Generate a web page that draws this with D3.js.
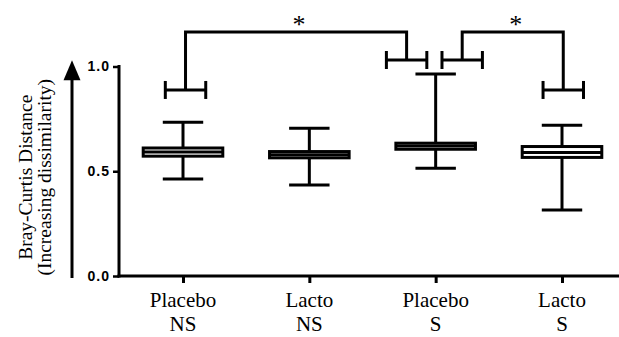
<!DOCTYPE html>
<html>
<head>
<meta charset="utf-8">
<script src="https://cdn.jsdelivr.net/npm/d3@7"></script>
<style>
  body { margin: 0; background: #fff; }
  svg { display: block; }
</style>
</head>
<body>
<svg id="chart"></svg>
<script>
// ------ data
var groups = ['Placebo NS', 'Lacto NS', 'Placebo S', 'Lacto S']
var groupLine1 = ['Placebo', 'Lacto', 'Placebo', 'Lacto']
var groupLine2 = ['NS', 'NS', 'S', 'S']
var whiskerLow = [0.463, 0.434, 0.514, 0.315]
var boxLow = [0.572, 0.564, 0.605, 0.566]
var medians = [0.592, 0.579, 0.620, 0.590]
var boxHigh = [0.611, 0.594, 0.634, 0.618]
var whiskerHigh = [0.734, 0.705, 0.964, 0.719]
var yTicks = [0, 0.5, 1]

// significance brackets: groups compared, cap levels, offsets (in steps), bar level
var bracketFrom = ['Placebo NS', 'Placebo S']
var bracketTo = ['Placebo S', 'Lacto S']
var bracketFromLevel = [0.888, 1.031]
var bracketToLevel = [1.031, 0.888]
var bracketFromShift = [0.02, 0.21]
var bracketToShift = [-0.23, 0.01]
var bracketTop = [1.165, 1.165]
var bracketLabel = ['*', '*']

var width = 619
var height = 337
var margin = { top: 0, right: 0, bottom: 61, left: 119 }

var svg = d3.select('#chart').attr('width', width).attr('height', height)

var x = d3
  .scalePoint()
  .domain(groups)
  .range([183, 562])

var step = x.step()

var y = d3
  .scaleLinear()
  .domain([0, 1])
  .range([276, 66.5])

var boxes = groups.map((g, i) => ({
  group: g,
  lo: whiskerLow[i],
  q1: boxLow[i],
  med: medians[i],
  q3: boxHigh[i],
  hi: whiskerHigh[i]
}))

var stroke = 3

// y axis
var yAxis = g =>
  g
    .attr('transform', `translate(${margin.left},0)`)
    .call(
      d3
        .axisLeft(y)
        .tickValues(yTicks)
        .tickSize(6)
        .tickPadding(3)
        .tickFormat(d3.format('.1f'))
    )
    .call(g => g.select('.domain').remove())
    .call(g =>
      g
        .selectAll('.tick line')
        .attr('stroke', '#000')
        .attr('stroke-width', 2.5)
    )
    .call(g =>
      g
        .selectAll('.tick text')
        .attr('font-family', 'Liberation Sans, Arial, sans-serif')
        .attr('font-weight', 'bold')
        .attr('font-size', 14)
        .attr('letter-spacing', 1)
        .attr('fill', '#000')
    )

svg.append('g').call(yAxis)

svg
  .append('line')
  .attr('x1', margin.left)
  .attr('x2', margin.left)
  .attr('y1', y(1) - 1.5)
  .attr('y2', y(0) + 1.5)
  .attr('stroke', '#000')
  .attr('stroke-width', stroke)

// x axis
var xAxis = g =>
  g
    .attr('transform', `translate(0,${y(0)})`)
    .call(
      d3
        .axisBottom(x)
        .tickSize(7)
        .tickFormat('')
    )
    .call(g => g.select('.domain').remove())
    .call(g =>
      g
        .selectAll('.tick line')
        .attr('stroke', '#000')
        .attr('stroke-width', stroke)
    )

svg.append('g').call(xAxis)

svg
  .append('line')
  .attr('x1', margin.left - 1.5)
  .attr('x2', width)
  .attr('y1', y(0))
  .attr('y2', y(0))
  .attr('stroke', '#000')
  .attr('stroke-width', stroke)

var catLabels = svg
  .append('g')
  .attr('font-family', 'Liberation Serif, Times New Roman, serif')
  .attr('font-size', 21)
  .attr('text-anchor', 'middle')
  .selectAll('text')
  .data(groups)
  .enter()
  .append('text')
  .attr('x', d => x(d))
  .attr('y', y(0) + 31)

catLabels
  .append('tspan')
  .attr('x', d => x(d))
  .text((d, i) => groupLine1[i])

catLabels
  .append('tspan')
  .attr('x', d => x(d))
  .attr('dy', 24)
  .text((d, i) => groupLine2[i])

// y title + arrow
var yTitle = svg
  .append('text')
  .attr('transform', `translate(32,${(y(0) + y(1)) / 2 + 6}) rotate(-90)`)
  .attr('font-family', 'Liberation Serif, Times New Roman, serif')
  .attr('font-size', 19.5)
  .attr('text-anchor', 'middle')

yTitle.append('tspan').attr('x', 0).text('Bray-Curtis Distance')
yTitle
  .append('tspan')
  .attr('x', 0)
  .attr('dy', 19)
  .text('(Increasing dissimilarity)')

svg
  .append('line')
  .attr('x1', 72)
  .attr('x2', 72)
  .attr('y1', y(0) + 2)
  .attr('y2', y(1) + 12)
  .attr('stroke', '#000')
  .attr('stroke-width', stroke)

svg
  .append('path')
  .attr(
    'd',
    `M72,${y(1.03)} L80.5,${y(1.03) + 20} L63.5,${y(1.03) + 20} Z`
  )
  .attr('fill', '#000')

// boxes
var boxW = step * 0.63
var capW = step * 0.32

var box = svg
  .append('g')
  .attr('stroke', '#000')
  .attr('stroke-width', stroke)
  .selectAll('g')
  .data(boxes)
  .enter()
  .append('g')

box
  .append('line')
  .attr('x1', d => x(d.group))
  .attr('x2', d => x(d.group))
  .attr('y1', d => y(d.hi))
  .attr('y2', d => y(d.lo))

box
  .append('line')
  .attr('x1', d => x(d.group) - capW / 2)
  .attr('x2', d => x(d.group) + capW / 2)
  .attr('y1', d => y(d.hi))
  .attr('y2', d => y(d.hi))

box
  .append('line')
  .attr('x1', d => x(d.group) - capW / 2)
  .attr('x2', d => x(d.group) + capW / 2)
  .attr('y1', d => y(d.lo))
  .attr('y2', d => y(d.lo))

box
  .append('rect')
  .attr('x', d => x(d.group) - boxW / 2)
  .attr('width', boxW)
  .attr('y', d => y(d.q3))
  .attr('height', d => y(d.q1) - y(d.q3))
  .attr('fill', '#fff')

box
  .append('line')
  .attr('x1', d => x(d.group) - boxW / 2)
  .attr('x2', d => x(d.group) + boxW / 2)
  .attr('y1', d => y(d.med))
  .attr('y2', d => y(d.med))

// significance brackets
var brackets = bracketFrom.map((f, i) => ({
  x1: x(f) + bracketFromShift[i] * step,
  x2: x(bracketTo[i]) + bracketToShift[i] * step,
  l1: bracketFromLevel[i],
  l2: bracketToLevel[i],
  top: bracketTop[i],
  label: bracketLabel[i]
}))

var hCap = (g, cx, level) => {
  g.append('line')
    .attr('x1', cx - capW / 2)
    .attr('x2', cx + capW / 2)
    .attr('y1', y(level))
    .attr('y2', y(level))
  g.append('line')
    .attr('x1', cx - capW / 2)
    .attr('x2', cx - capW / 2)
    .attr('y1', y(level) - 9)
    .attr('y2', y(level) + 9)
  g.append('line')
    .attr('x1', cx + capW / 2)
    .attr('x2', cx + capW / 2)
    .attr('y1', y(level) - 9)
    .attr('y2', y(level) + 9)
}

brackets.forEach(b => {
  var g = svg
    .append('g')
    .attr('stroke', '#000')
    .attr('stroke-width', stroke)
    .attr('fill', 'none')

  hCap(g, b.x1, b.l1)
  hCap(g, b.x2, b.l2)

  g.append('path').attr(
    'd',
    `M${b.x1},${y(b.l1)} V${y(b.top)} H${b.x2} V${y(b.l2)}`
  )

  svg
    .append('text')
    .attr('x', (b.x1 + b.x2) / 2 + 3)
    .attr('y', y(b.top) + 1)
    .attr('text-anchor', 'middle')
    .attr('font-family', 'Liberation Serif, Times New Roman, serif')
    .attr('font-size', 26)
    .text(b.label)
})
</script>
</body>
</html>
